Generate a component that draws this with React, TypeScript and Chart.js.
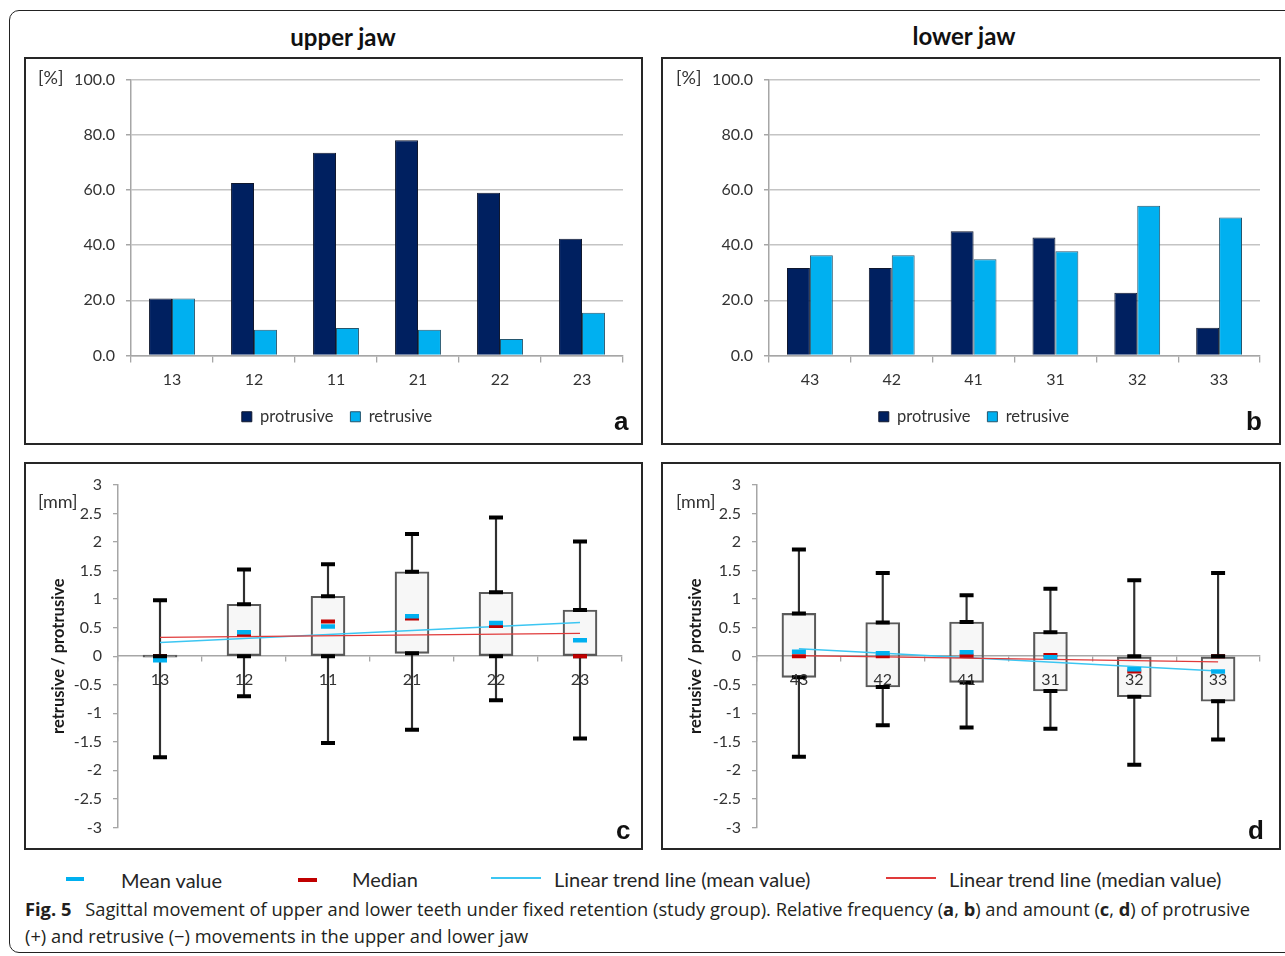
import React, { useEffect, useRef } from 'react';
import { Chart, registerables } from 'chart.js';

Chart.register(...registerables);

const FONT = 'Lato, "Open Sans", sans-serif';
Chart.defaults.font.family = FONT;
Chart.defaults.color = '#333333';

// ---------- data ----------
const upperTeeth = ['13', '12', '11', '21', '22', '23'];
const lowerTeeth = ['43', '42', '41', '31', '32', '33'];

// relative frequency [%]
const upperProtrusive = [20.7, 62.5, 73.5, 78.0, 59.0, 42.3];
const upperRetrusive = [20.7, 9.3, 10.0, 9.3, 6.0, 15.5];
const lowerProtrusive = [31.7, 31.7, 45.0, 42.8, 22.7, 10.1];
const lowerRetrusive = [36.3, 36.3, 34.9, 37.8, 54.3, 50.0];

// amount [mm]
const upperMax = [0.98, 1.52, 1.61, 2.14, 2.43, 2.01];
const upperQ3 = [0, 0.91, 1.05, 1.48, 1.12, 0.81];
const upperQ1 = [0, 0, 0, 0.05, 0, 0];
const upperMin = [-1.77, -0.7, -1.52, -1.29, -0.77, -1.44];
const upperMean = [-0.07, 0.42, 0.52, 0.7, 0.58, 0.28];
const upperMedian = [0, 0.38, 0.61, 0.66, 0.53, 0];
const upperTrendMean = [0.24, 0.59];
const upperTrendMedian = [0.33, 0.4];

const lowerMax = [1.87, 1.46, 1.07, 1.18, 1.33, 1.46];
const lowerQ3 = [0.75, 0.59, 0.6, 0.42, 0, 0];
const lowerQ1 = [-0.37, -0.54, -0.46, -0.61, -0.71, -0.79];
const lowerMin = [-1.76, -1.21, -1.25, -1.27, -1.9, -1.46];
const lowerMean = [0.08, 0.05, 0.07, -0.02, -0.23, -0.27];
const lowerMedian = [0, 0, 0.01, 0.02, -0.27, 0];
const lowerTrendMean = [0.13, -0.26];
const lowerTrendMedian = [0.01, -0.1];

const percentRange = [0, 100, 20];
const mmRange = [-3, 3, 0.5];

// ---------- styles ----------
const NAVY = '#002060';
const CYAN = '#00b0f0';
const DARKRED = '#c00000';
const AXIS = '#a6a6a6';
const TXT = '#333333';

type Frame = { left: number; top: number; width: number; height: number };

function BarPanel(props: {
  frame: Frame;
  labels: string[];
  protrusive: number[];
  retrusive: number[];
  yAxisWidth: number;
  padRight: number;
}) {
  const ref = useRef<HTMLCanvasElement>(null);
  const { frame } = props;
  const iw = frame.width - 4;
  const ih = frame.height - 4;
  const padLeft = 25;
  useEffect(() => {
    const chart = new Chart(ref.current!, {
      type: 'bar',
      data: {
        labels: props.labels,
        datasets: [
          {
            label: 'protrusive',
            data: props.protrusive,
            backgroundColor: NAVY,
            borderColor: '#10182e',
            borderWidth: 1,
          },
          {
            label: 'retrusive',
            data: props.retrusive,
            backgroundColor: CYAN,
            borderColor: '#24566e',
            borderWidth: 1,
          },
        ],
      },
      options: {
        animation: false,
        responsive: false,
        maintainAspectRatio: false,
        layout: { padding: { left: padLeft, right: props.padRight, top: 20, bottom: 8 } },
        datasets: { bar: { categoryPercentage: 0.56, barPercentage: 1 } } as any,
        plugins: {
          legend: {
            position: 'bottom',
            labels: {
              boxWidth: 10,
              boxHeight: 10,
              padding: 17,
              color: TXT,
              font: { size: 16.5, family: FONT },
            },
          },
          tooltip: { enabled: false },
        },
        scales: {
          x: {
            ticks: { color: TXT, font: { size: 16 }, padding: 8 },
            grid: {
              display: true,
              drawOnChartArea: false,
              drawTicks: true,
              tickLength: 7,
              offset: true,
              color: AXIS,
              lineWidth: 1.3,
            },
            border: { display: true, color: AXIS, width: 1.5 },
            afterFit: (s: any) => {
              s.height = 36;
            },
          },
          y: {
            min: percentRange[0],
            max: percentRange[1],
            ticks: {
              stepSize: percentRange[2],
              color: TXT,
              font: { size: 16 },
              padding: 11,
              callback: (v: any) => Number(v).toFixed(1),
            },
            grid: {
              color: '#c4c4c4',
              lineWidth: 1.5,
              drawTicks: true,
              tickLength: 5,
              tickColor: AXIS,
            },
            border: { display: true, color: AXIS, width: 1.5 },
            afterFit: (s: any) => {
              s.width = props.yAxisWidth - padLeft;
            },
          },
        },
      },
    });
    return () => chart.destroy();
  }, []);
  return (
    <div
      style={{
        position: 'absolute',
        left: frame.left,
        top: frame.top,
        width: frame.width,
        height: frame.height,
        border: '2px solid #262626',
        boxSizing: 'border-box',
        background: '#fff',
      }}
    >
      <canvas ref={ref} width={iw} height={ih} style={{ display: 'block', width: iw, height: ih }} />
    </div>
  );
}

function BoxPanel(props: {
  frame: Frame;
  labels: string[];
  max: number[];
  q3: number[];
  q1: number[];
  min: number[];
  mean: number[];
  median: number[];
  trendMean: number[];
  trendMedian: number[];
  yAxisWidth: number;
  padRight: number;
}) {
  const ref = useRef<HTMLCanvasElement>(null);
  const { frame, labels } = props;
  const iw = frame.width - 4;
  const ih = frame.height - 4;
  useEffect(() => {
    const last = labels.length - 1;
    const marker = (label: string, data: number[], color: string, order: number, bw = 4) => ({
      type: 'line' as const,
      label,
      data,
      showLine: false,
      pointStyle: 'line' as const,
      pointRadius: 7,
      pointHoverRadius: 7,
      pointBorderWidth: bw,
      pointHoverBorderWidth: bw,
      pointBorderColor: color,
      borderColor: color,
      backgroundColor: color,
      order,
    });
    const whisker = (label: string, data: number[][]) =>
      ({
        type: 'bar',
        label,
        data,
        backgroundColor: '#303030',
        borderWidth: 0,
        barThickness: 1.5,
        grouped: false,
        order: 10,
      } as any);
    const chart = new Chart(ref.current!, {
      type: 'bar',
      data: {
        labels,
        datasets: [
          whisker('lower whisker', props.min.map((m, i) => [m, props.q1[i]])),
          whisker('upper whisker', props.q3.map((q, i) => [q, props.max[i]])),
          {
            type: 'bar',
            label: 'box',
            data: props.q1.map((q, i) => [q, props.q3[i]]),
            backgroundColor: 'rgba(0,0,0,0.03)',
            borderColor: '#5a5a5a',
            borderWidth: 1.5,
            borderSkipped: false,
            barThickness: 34,
            minBarLength: 2,
            grouped: false,
            order: 9,
          } as any,
          {
            type: 'line',
            label: 'trend mean',
            data: [
              { x: labels[0], y: props.trendMean[0] },
              { x: labels[last], y: props.trendMean[1] },
            ],
            borderColor: '#3cc6f2',
            borderWidth: 1.4,
            pointRadius: 0,
            order: 8,
          } as any,
          {
            type: 'line',
            label: 'trend median',
            data: [
              { x: labels[0], y: props.trendMedian[0] },
              { x: labels[last], y: props.trendMedian[1] },
            ],
            borderColor: '#e03a3a',
            borderWidth: 1.4,
            pointRadius: 0,
            order: 7,
          } as any,
          marker('max', props.max, '#000', 6),
          marker('min', props.min, '#000', 6),
          marker('q1', props.q1, '#000', 6),
          marker('median', props.median, DARKRED, 5, 4),
          marker('mean', props.mean, CYAN, 4, 4.5),
          marker('q3', props.q3, '#000', 3),
        ],
      },
      options: {
        animation: false,
        responsive: false,
        maintainAspectRatio: false,
        layout: { padding: { left: 0, right: props.padRight, top: 21, bottom: 17 } },
        plugins: { legend: { display: false }, tooltip: { enabled: false } },
        scales: {
          x: {
            position: { y: 0 } as any,
            ticks: { color: TXT, font: { size: 16 }, padding: 9, z: 1 } as any,
            grid: {
              display: true,
              drawOnChartArea: false,
              drawTicks: true,
              tickLength: 5,
              offset: true,
              color: AXIS,
              lineWidth: 1.3,
            },
            border: { display: true, color: AXIS, width: 1.5 },
          },
          y: {
            min: mmRange[0],
            max: mmRange[1],
            ticks: {
              stepSize: mmRange[2],
              color: TXT,
              font: { size: 16 },
              padding: 11,
              callback: (v: any) => String(Math.round(Number(v) * 10) / 10),
            },
            grid: {
              display: true,
              drawOnChartArea: false,
              drawTicks: true,
              tickLength: 5,
              color: AXIS,
              lineWidth: 1.3,
            },
            border: { display: true, color: AXIS, width: 1.5 },
            title: {
              display: true,
              text: 'retrusive / protrusive',
              color: '#1a1a1a',
              font: { size: 16.5, weight: 'bold', family: FONT },
              padding: { top: 23, bottom: 0 },
            },
            afterFit: (s: any) => {
              s.width = props.yAxisWidth;
            },
          },
        },
      },
    });
    return () => chart.destroy();
  }, []);
  return (
    <div
      style={{
        position: 'absolute',
        left: frame.left,
        top: frame.top,
        width: frame.width,
        height: frame.height,
        border: '2px solid #262626',
        boxSizing: 'border-box',
        background: '#fff',
      }}
    >
      <canvas ref={ref} width={iw} height={ih} style={{ display: 'block', width: iw, height: ih }} />
    </div>
  );
}

const abs = (left: number, top: number, extra: React.CSSProperties = {}): React.CSSProperties => ({
  position: 'absolute',
  left,
  top,
  whiteSpace: 'nowrap',
  ...extra,
});

function Text(props: { x: number; y: number; children: React.ReactNode; style?: React.CSSProperties }) {
  return (
    <div style={abs(props.x, props.y - 12, { lineHeight: '24px', fontFamily: FONT, fontSize: 16, color: TXT, ...props.style })}>
      {props.children}
    </div>
  );
}

export default function App() {
  const panelLabel: React.CSSProperties = {
    fontFamily: '"Liberation Sans", Arial, sans-serif',
    fontWeight: 'bold',
    fontSize: 26,
    color: '#111',
  };
  const legendText: React.CSSProperties = { fontSize: 20, color: '#262626' };
  const titleStyle: React.CSSProperties = {
    width: 200,
    textAlign: 'center',
    lineHeight: '28px',
    fontFamily: FONT,
    fontWeight: 'bold',
    fontSize: 24,
    color: '#111',
  };
  const unitStyle: React.CSSProperties = { fontSize: 18 };
  return (
    <div
      style={{
        position: 'absolute',
        left: 0,
        top: 0,
        width: 1285,
        height: 956,
        overflow: 'hidden',
        background: '#fff',
      }}
    >
      <div
        style={{
          position: 'absolute',
          left: 9,
          top: 10,
          width: 1300,
          height: 943,
          border: '1.5px solid #222',
          borderRadius: 10,
          boxSizing: 'border-box',
        }}
      />
      <div style={abs(243, 23, titleStyle)}>upper jaw</div>
      <div style={abs(864, 22, titleStyle)}>lower jaw</div>

      <BarPanel
        frame={{ left: 24, top: 57, width: 619, height: 388 }}
        labels={upperTeeth}
        protrusive={upperProtrusive}
        retrusive={upperRetrusive}
        yAxisWidth={105}
        padRight={18}
      />
      <BarPanel
        frame={{ left: 661, top: 57, width: 620, height: 388 }}
        labels={lowerTeeth}
        protrusive={lowerProtrusive}
        retrusive={lowerRetrusive}
        yAxisWidth={106}
        padRight={19}
      />
      <BoxPanel
        frame={{ left: 24, top: 462, width: 619, height: 388 }}
        labels={upperTeeth}
        max={upperMax}
        q3={upperQ3}
        q1={upperQ1}
        min={upperMin}
        mean={upperMean}
        median={upperMedian}
        trendMean={upperTrendMean}
        trendMedian={upperTrendMedian}
        yAxisWidth={92}
        padRight={19}
      />
      <BoxPanel
        frame={{ left: 661, top: 462, width: 620, height: 388 }}
        labels={lowerTeeth}
        max={lowerMax}
        q3={lowerQ3}
        q1={lowerQ1}
        min={lowerMin}
        mean={lowerMean}
        median={lowerMedian}
        trendMean={lowerTrendMean}
        trendMedian={lowerTrendMedian}
        yAxisWidth={94}
        padRight={19}
      />

      <Text x={38} y={77} style={unitStyle}>[%]</Text>
      <Text x={676} y={77} style={unitStyle}>[%]</Text>
      <Text x={38} y={501} style={unitStyle}>[mm]</Text>
      <Text x={676} y={501} style={unitStyle}>[mm]</Text>

      <div style={abs(614, 406, { ...panelLabel, lineHeight: '30px' })}>a</div>
      <div style={abs(1246, 406, { ...panelLabel, lineHeight: '30px' })}>b</div>
      <div style={abs(616, 815, { ...panelLabel, lineHeight: '30px' })}>c</div>
      <div style={abs(1248, 815, { ...panelLabel, lineHeight: '30px' })}>d</div>

      {/* bottom legend */}
      <div style={abs(66, 877, { width: 18, height: 4, background: CYAN })} />
      <Text x={121} y={880} style={legendText}>Mean value</Text>
      <div style={abs(298, 878, { width: 19, height: 4, background: DARKRED })} />
      <Text x={352} y={879} style={legendText}>Median</Text>
      <div style={abs(491, 877, { width: 50, height: 1.5, background: '#3cc6f2' })} />
      <Text x={554} y={879} style={legendText}>Linear trend line (mean value)</Text>
      <div style={abs(886, 877, { width: 50, height: 1.5, background: '#e03a3a' })} />
      <Text x={949} y={879} style={legendText}>Linear trend line (median value)</Text>

      {/* caption */}
      <div
        style={abs(25, 895, {
          fontFamily: '"Open Sans", sans-serif',
          fontSize: 18.3,
          lineHeight: '27px',
          color: '#231f20',
        })}
      >
        <div>
          <b>Fig. 5</b>
          {'\u2002 Sagittal movement of upper and lower teeth under fixed retention (study group). Relative frequency ('}
          <b>a</b>, <b>b</b>
          {') and amount ('}
          <b>c</b>, <b>d</b>
          {') of protrusive'}
        </div>
        <div>(+) and retrusive (−) movements in the upper and lower jaw</div>
      </div>
    </div>
  );
}
